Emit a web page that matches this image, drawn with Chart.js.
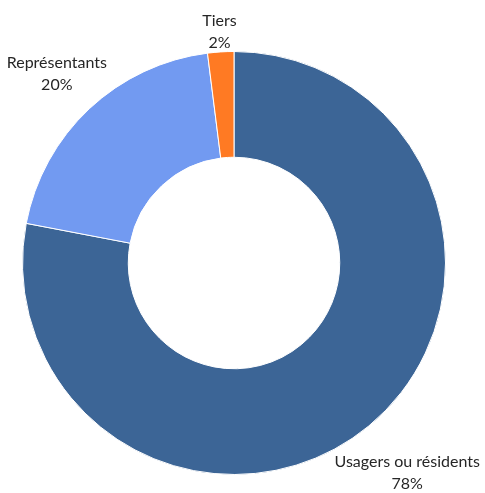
<!DOCTYPE html>
<html>
<head>
<meta charset="utf-8">
<script src="https://cdn.jsdelivr.net/npm/chart.js@4.4.1/dist/chart.umd.min.js"></script>
<style>
  html, body { margin: 0; padding: 0; background: #fff; }
  #wrap { width: 485px; height: 493px; }
</style>
</head>
<body>
<div id="wrap"><canvas id="repartitionChart"></canvas></div>
<script>
const categories = ['Usagers ou résidents', 'Représentants', 'Tiers'];
const valeurs = [78, 20, 2];
const couleurs = ['#3C6596', '#729AF1', '#FF7A23'];

// Étiquettes à l'extérieur des parts : nom + pourcentage
const etiquettesExterieures = {
    id: 'etiquettesExterieures',
    afterDatasetsDraw(chart) {
        const ctx = chart.ctx;
        const meta = chart.getDatasetMeta(0);
        const total = valeurs.reduce((a, b) => a + b, 0);
        ctx.save();
        ctx.font = '16px Lato';
        ctx.fillStyle = '#262626';
        ctx.textAlign = 'center';
        ctx.textBaseline = 'middle';
        const hauteurLigne = 22;
        meta.data.forEach((arc, i) => {
            const angle = (arc.startAngle + arc.endAngle) / 2;
            const lignes = [categories[i], Math.round(valeurs[i] / total * 100) + '%'];
            const w = Math.max(...lignes.map(l => ctx.measureText(l).width));
            const h = hauteurLigne * lignes.length;
            const cos = Math.cos(angle), sin = Math.sin(angle);
            const dist = arc.outerRadius - 3 + Math.abs(cos) * w / 2 + Math.abs(sin) * h / 2;
            const x = arc.x + cos * dist;
            const y = arc.y + sin * dist;
            lignes.forEach((l, k) => {
                ctx.fillText(l, x, y + (k - (lignes.length - 1) / 2) * hauteurLigne);
            });
        });
        ctx.restore();
    }
};

const ctx = document.getElementById('repartitionChart').getContext('2d');
const repartitionChart = new Chart(ctx, {
    type: 'doughnut',
    data: {
        labels: categories,
        datasets: [{
            data: valeurs,
            backgroundColor: couleurs,
            borderColor: '#ffffff',
            borderWidth: 1
        }]
    },
    options: {
        responsive: true,
        maintainAspectRatio: false,
        animation: false,
        cutout: '50%',
        layout: {
            padding: { left: 22, right: 39, top: 51, bottom: 18 }
        },
        plugins: {
            legend: { display: false },
            tooltip: { enabled: false }
        }
    },
    plugins: [etiquettesExterieures]
});
</script>
</body>
</html>
